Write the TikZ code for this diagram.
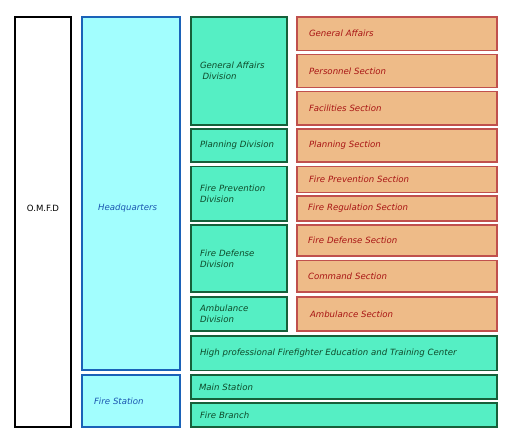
\documentclass[tikz,border=0pt]{standalone}
\usepackage{fontspec}
\setmainfont{DejaVu Sans}
\definecolor{hqfill}{HTML}{A2FEFE}
\definecolor{hqdraw}{HTML}{1A62B8}
\definecolor{hqtext}{HTML}{1A55B0}
\definecolor{dvfill}{HTML}{55EFC4}
\definecolor{dvdraw}{HTML}{16603A}
\definecolor{dvtext}{HTML}{0E4A2A}
\definecolor{scfill}{HTML}{EEBB88}
\definecolor{scdraw}{HTML}{C0504D}
\definecolor{sctext}{HTML}{A81414}
\tikzset{
  txt/.style={font=\fontsize{8.6}{11}\selectfont\itshape},
  boxbase/.style={rectangle, inner ysep=0pt, outer sep=0pt, align=left, txt},
  omfd/.style={boxbase, draw=black, fill=white, line width=2pt},
  hq/.style={boxbase, draw=hqdraw, fill=hqfill, line width=1.5pt, text=hqtext},
  dv/.style={boxbase, draw=dvdraw, fill=dvfill, line width=1.5pt, text=dvtext},
  sc/.style={boxbase, draw=scdraw, fill=scfill, line width=1.5pt, text=sctext}
}
% #1 style, #2 name, #3 x1, #4 y1, #5 x2, #6 y2, #7 inset, #8 text
\newcommand{\bx}[8]{%
  \pgfmathsetlengthmacro{\bxw}{(#5-#3)*1pt}%
  \pgfmathsetlengthmacro{\bxh}{(#6-#4)*1pt}%
  \pgfmathsetlengthmacro{\bxt}{(#5-#3-2*#7)*1pt}%
  \node[#1, minimum width=\bxw, minimum height=\bxh, text width=\bxt, inner xsep=#7pt]
    (#2) at ({(#3+#5)/2},{(#4+#6)/2}) {#8};%
}
\begin{document}
\begin{tikzpicture}[x=1pt,y=-1pt]
\useasboundingbox (0,0) rectangle (512,444);
\bx{omfd}{omfd}{15}{17}{71}{427}{2}{}
\node[font=\fontsize{8.6}{11}\selectfont, text=black] (omfdt) at (43,208) {O.M.F.D};
\bx{hq}{hq}{82}{17}{180}{370}{16}{}
\node[txt, text=hqtext, anchor=west, inner sep=0pt] (hqt) at (98,208) {Headquarters};
\bx{hq}{fs}{82}{375}{180}{427}{12}{Fire Station}
% divisions
\bx{dv}{gad}{191}{17}{287}{125}{9}{General Affairs\\\hspace*{2.5pt}Division}
\bx{dv}{pld}{191}{129}{287}{162}{9}{Planning Division}
\bx{dv}{fpd}{191}{166.5}{287}{221}{9}{Fire Prevention\\Division}
\bx{dv}{fdd}{191}{225}{287}{292}{9}{Fire Defense\\Division}
\bx{dv}{amd}{191}{297}{287}{331}{9}{Ambulance\\Division}
\bx{dv}{hpf}{191}{336}{497}{370.5}{9}{High professional Firefighter Education and Training Center}
\bx{dv}{ms}{191}{375}{497}{399}{8}{Main Station}
\bx{dv}{fb}{191}{403}{497}{427}{9}{Fire Branch}
% sections
\bx{sc}{gas}{297}{17}{497}{50.5}{12}{General Affairs}
\bx{sc}{pes}{297}{54.5}{497}{87.5}{12}{Personnel Section}
\bx{sc}{fas}{297}{91.5}{497}{125}{12}{Facilities Section}
\bx{sc}{pls}{297}{129}{497}{162}{12}{Planning Section}
\bx{sc}{fps}{297}{166.5}{497}{192.5}{12}{Fire Prevention Section}
\bx{sc}{frs}{297}{196}{497}{221}{11}{Fire Regulation Section}
\bx{sc}{fds}{297}{225}{497}{256}{11}{Fire Defense Section}
\bx{sc}{cms}{297}{260.5}{497}{292}{11}{Command Section}
\bx{sc}{ams}{297}{297}{497}{331}{13}{Ambulance Section}
\end{tikzpicture}
\end{document}
